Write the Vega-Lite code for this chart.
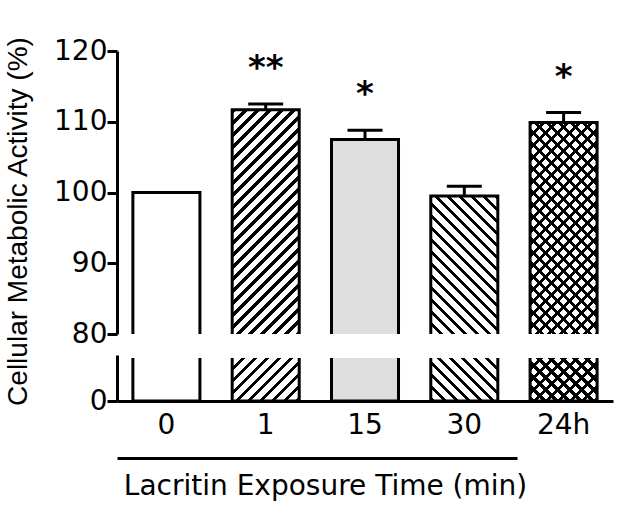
{
"$schema":"https://vega.github.io/schema/vega-lite/v6.json",
"background":"white",
"padding":{"left":4,"top":35,"right":5,"bottom":5},
"bounds":"flush",
"spacing":24,
"config":{"view":{"stroke":null},"axis":{"domainColor":"black","domainWidth":3,"tickColor":"black","tickWidth":3,"tickSize":10,"labelColor":"black","labelFont":"DejaVu Sans","labelFontSize":28,"titleFont":"DejaVu Sans","titleFontSize":28,"titleFontWeight":"normal","titleColor":"black","grid":false,"labelPadding":0}},
"resolve":{"scale":{"x":"independent","y":"independent"}},
"datasets":{"bars":[
{"t":"0","v":100,"hi":null,"star":""},
{"t":"1","v":111.7,"hi":112.5,"star":"**"},
{"t":"15","v":107.5,"hi":108.8,"star":"*"},
{"t":"30","v":99.5,"hi":100.9,"star":""},
{"t":"24h","v":109.9,"hi":111.3,"star":"*"}
]},
"vconcat":[
{"width":496,"height":283,"data":{"name":"bars"},
"encoding":{"x":{"field":"t","type":"nominal","sort":["0","1","15","30","24h"],"scale":{"paddingInner":0.325,"paddingOuter":0.16},"axis":null},
"y":{"field":"v","type":"quantitative","scale":{"domain":[80,120],"nice":false,"zero":false},"axis":{"values":[80,90,100,110,120],"title":"Cellular Metabolic Activity (%)","titleFont":"Liberation Sans","titleY":170,"titlePadding":21}}},
"layer":[
{"mark":{"type":"bar","stroke":"black","strokeWidth":3,"clip":true},"encoding":{"y2":{"datum":79.5},"fill":{"condition":{"test":"datum.t==='15'","value":"#dedede"},"value":"white"}}},
{"transform":[{"filter":"datum.t==='1'"}],"mark":{"type":"bar","clip":true,"strokeWidth":0,"fill":{"gradient":"linear","x1":0,"y1":0,"x2":0.3565,"y2":1.2121,"stops":[
{"offset":0,"color":"#000"},{"offset":0.014,"color":"#000"},{"offset":0.014,"color":"rgba(0,0,0,0)"},{"offset":0.04,"color":"rgba(0,0,0,0)"},
{"offset":0.04,"color":"#000"},{"offset":0.054,"color":"#000"},{"offset":0.054,"color":"rgba(0,0,0,0)"},{"offset":0.08,"color":"rgba(0,0,0,0)"},
{"offset":0.08,"color":"#000"},{"offset":0.094,"color":"#000"},{"offset":0.094,"color":"rgba(0,0,0,0)"},{"offset":0.12,"color":"rgba(0,0,0,0)"},
{"offset":0.12,"color":"#000"},{"offset":0.134,"color":"#000"},{"offset":0.134,"color":"rgba(0,0,0,0)"},{"offset":0.16,"color":"rgba(0,0,0,0)"},
{"offset":0.16,"color":"#000"},{"offset":0.174,"color":"#000"},{"offset":0.174,"color":"rgba(0,0,0,0)"},{"offset":0.2,"color":"rgba(0,0,0,0)"},
{"offset":0.2,"color":"#000"},{"offset":0.214,"color":"#000"},{"offset":0.214,"color":"rgba(0,0,0,0)"},{"offset":0.24,"color":"rgba(0,0,0,0)"},
{"offset":0.24,"color":"#000"},{"offset":0.254,"color":"#000"},{"offset":0.254,"color":"rgba(0,0,0,0)"},{"offset":0.28,"color":"rgba(0,0,0,0)"},
{"offset":0.28,"color":"#000"},{"offset":0.294,"color":"#000"},{"offset":0.294,"color":"rgba(0,0,0,0)"},{"offset":0.32,"color":"rgba(0,0,0,0)"},
{"offset":0.32,"color":"#000"},{"offset":0.334,"color":"#000"},{"offset":0.334,"color":"rgba(0,0,0,0)"},{"offset":0.36,"color":"rgba(0,0,0,0)"},
{"offset":0.36,"color":"#000"},{"offset":0.374,"color":"#000"},{"offset":0.374,"color":"rgba(0,0,0,0)"},{"offset":0.4,"color":"rgba(0,0,0,0)"},
{"offset":0.4,"color":"#000"},{"offset":0.414,"color":"#000"},{"offset":0.414,"color":"rgba(0,0,0,0)"},{"offset":0.44,"color":"rgba(0,0,0,0)"},
{"offset":0.44,"color":"#000"},{"offset":0.454,"color":"#000"},{"offset":0.454,"color":"rgba(0,0,0,0)"},{"offset":0.48,"color":"rgba(0,0,0,0)"},
{"offset":0.48,"color":"#000"},{"offset":0.494,"color":"#000"},{"offset":0.494,"color":"rgba(0,0,0,0)"},{"offset":0.52,"color":"rgba(0,0,0,0)"},
{"offset":0.52,"color":"#000"},{"offset":0.534,"color":"#000"},{"offset":0.534,"color":"rgba(0,0,0,0)"},{"offset":0.56,"color":"rgba(0,0,0,0)"},
{"offset":0.56,"color":"#000"},{"offset":0.574,"color":"#000"},{"offset":0.574,"color":"rgba(0,0,0,0)"},{"offset":0.6,"color":"rgba(0,0,0,0)"},
{"offset":0.6,"color":"#000"},{"offset":0.614,"color":"#000"},{"offset":0.614,"color":"rgba(0,0,0,0)"},{"offset":0.64,"color":"rgba(0,0,0,0)"},
{"offset":0.64,"color":"#000"},{"offset":0.654,"color":"#000"},{"offset":0.654,"color":"rgba(0,0,0,0)"},{"offset":0.68,"color":"rgba(0,0,0,0)"},
{"offset":0.68,"color":"#000"},{"offset":0.694,"color":"#000"},{"offset":0.694,"color":"rgba(0,0,0,0)"},{"offset":0.72,"color":"rgba(0,0,0,0)"},
{"offset":0.72,"color":"#000"},{"offset":0.734,"color":"#000"},{"offset":0.734,"color":"rgba(0,0,0,0)"},{"offset":0.76,"color":"rgba(0,0,0,0)"},
{"offset":0.76,"color":"#000"},{"offset":0.774,"color":"#000"},{"offset":0.774,"color":"rgba(0,0,0,0)"},{"offset":0.8,"color":"rgba(0,0,0,0)"},
{"offset":0.8,"color":"#000"},{"offset":0.814,"color":"#000"},{"offset":0.814,"color":"rgba(0,0,0,0)"},{"offset":0.84,"color":"rgba(0,0,0,0)"},
{"offset":0.84,"color":"#000"},{"offset":0.854,"color":"#000"},{"offset":0.854,"color":"rgba(0,0,0,0)"},{"offset":0.88,"color":"rgba(0,0,0,0)"},
{"offset":0.88,"color":"#000"},{"offset":0.894,"color":"#000"},{"offset":0.894,"color":"rgba(0,0,0,0)"},{"offset":0.92,"color":"rgba(0,0,0,0)"},
{"offset":0.92,"color":"#000"},{"offset":0.934,"color":"#000"},{"offset":0.934,"color":"rgba(0,0,0,0)"},{"offset":0.96,"color":"rgba(0,0,0,0)"},
{"offset":0.96,"color":"#000"},{"offset":0.974,"color":"#000"},{"offset":0.974,"color":"rgba(0,0,0,0)"},{"offset":1,"color":"rgba(0,0,0,0)"}
]}},"encoding":{"y2":{"datum":79.5}}},
{"transform":[{"filter":"datum.t==='24h'"}],"mark":{"type":"bar","clip":true,"strokeWidth":0,"fill":{"gradient":"linear","x1":0,"y1":0,"x2":0.396,"y2":1.2714,"stops":[
{"offset":0,"color":"#000"},{"offset":0.014,"color":"#000"},{"offset":0.014,"color":"rgba(0,0,0,0)"},{"offset":0.04,"color":"rgba(0,0,0,0)"},
{"offset":0.04,"color":"#000"},{"offset":0.054,"color":"#000"},{"offset":0.054,"color":"rgba(0,0,0,0)"},{"offset":0.08,"color":"rgba(0,0,0,0)"},
{"offset":0.08,"color":"#000"},{"offset":0.094,"color":"#000"},{"offset":0.094,"color":"rgba(0,0,0,0)"},{"offset":0.12,"color":"rgba(0,0,0,0)"},
{"offset":0.12,"color":"#000"},{"offset":0.134,"color":"#000"},{"offset":0.134,"color":"rgba(0,0,0,0)"},{"offset":0.16,"color":"rgba(0,0,0,0)"},
{"offset":0.16,"color":"#000"},{"offset":0.174,"color":"#000"},{"offset":0.174,"color":"rgba(0,0,0,0)"},{"offset":0.2,"color":"rgba(0,0,0,0)"},
{"offset":0.2,"color":"#000"},{"offset":0.214,"color":"#000"},{"offset":0.214,"color":"rgba(0,0,0,0)"},{"offset":0.24,"color":"rgba(0,0,0,0)"},
{"offset":0.24,"color":"#000"},{"offset":0.254,"color":"#000"},{"offset":0.254,"color":"rgba(0,0,0,0)"},{"offset":0.28,"color":"rgba(0,0,0,0)"},
{"offset":0.28,"color":"#000"},{"offset":0.294,"color":"#000"},{"offset":0.294,"color":"rgba(0,0,0,0)"},{"offset":0.32,"color":"rgba(0,0,0,0)"},
{"offset":0.32,"color":"#000"},{"offset":0.334,"color":"#000"},{"offset":0.334,"color":"rgba(0,0,0,0)"},{"offset":0.36,"color":"rgba(0,0,0,0)"},
{"offset":0.36,"color":"#000"},{"offset":0.374,"color":"#000"},{"offset":0.374,"color":"rgba(0,0,0,0)"},{"offset":0.4,"color":"rgba(0,0,0,0)"},
{"offset":0.4,"color":"#000"},{"offset":0.414,"color":"#000"},{"offset":0.414,"color":"rgba(0,0,0,0)"},{"offset":0.44,"color":"rgba(0,0,0,0)"},
{"offset":0.44,"color":"#000"},{"offset":0.454,"color":"#000"},{"offset":0.454,"color":"rgba(0,0,0,0)"},{"offset":0.48,"color":"rgba(0,0,0,0)"},
{"offset":0.48,"color":"#000"},{"offset":0.494,"color":"#000"},{"offset":0.494,"color":"rgba(0,0,0,0)"},{"offset":0.52,"color":"rgba(0,0,0,0)"},
{"offset":0.52,"color":"#000"},{"offset":0.534,"color":"#000"},{"offset":0.534,"color":"rgba(0,0,0,0)"},{"offset":0.56,"color":"rgba(0,0,0,0)"},
{"offset":0.56,"color":"#000"},{"offset":0.574,"color":"#000"},{"offset":0.574,"color":"rgba(0,0,0,0)"},{"offset":0.6,"color":"rgba(0,0,0,0)"},
{"offset":0.6,"color":"#000"},{"offset":0.614,"color":"#000"},{"offset":0.614,"color":"rgba(0,0,0,0)"},{"offset":0.64,"color":"rgba(0,0,0,0)"},
{"offset":0.64,"color":"#000"},{"offset":0.654,"color":"#000"},{"offset":0.654,"color":"rgba(0,0,0,0)"},{"offset":0.68,"color":"rgba(0,0,0,0)"},
{"offset":0.68,"color":"#000"},{"offset":0.694,"color":"#000"},{"offset":0.694,"color":"rgba(0,0,0,0)"},{"offset":0.72,"color":"rgba(0,0,0,0)"},
{"offset":0.72,"color":"#000"},{"offset":0.734,"color":"#000"},{"offset":0.734,"color":"rgba(0,0,0,0)"},{"offset":0.76,"color":"rgba(0,0,0,0)"},
{"offset":0.76,"color":"#000"},{"offset":0.774,"color":"#000"},{"offset":0.774,"color":"rgba(0,0,0,0)"},{"offset":0.8,"color":"rgba(0,0,0,0)"},
{"offset":0.8,"color":"#000"},{"offset":0.814,"color":"#000"},{"offset":0.814,"color":"rgba(0,0,0,0)"},{"offset":0.84,"color":"rgba(0,0,0,0)"},
{"offset":0.84,"color":"#000"},{"offset":0.854,"color":"#000"},{"offset":0.854,"color":"rgba(0,0,0,0)"},{"offset":0.88,"color":"rgba(0,0,0,0)"},
{"offset":0.88,"color":"#000"},{"offset":0.894,"color":"#000"},{"offset":0.894,"color":"rgba(0,0,0,0)"},{"offset":0.92,"color":"rgba(0,0,0,0)"},
{"offset":0.92,"color":"#000"},{"offset":0.934,"color":"#000"},{"offset":0.934,"color":"rgba(0,0,0,0)"},{"offset":0.96,"color":"rgba(0,0,0,0)"}
]}},"encoding":{"y2":{"datum":79.5}}},
{"transform":[{"filter":"datum.t==='24h'"}],"mark":{"type":"bar","clip":true,"strokeWidth":0,"fill":{"gradient":"linear","x1":1,"y1":0,"x2":0.604,"y2":1.2714,"stops":[
{"offset":0,"color":"#000"},{"offset":0.014,"color":"#000"},{"offset":0.014,"color":"rgba(0,0,0,0)"},{"offset":0.04,"color":"rgba(0,0,0,0)"},
{"offset":0.04,"color":"#000"},{"offset":0.054,"color":"#000"},{"offset":0.054,"color":"rgba(0,0,0,0)"},{"offset":0.08,"color":"rgba(0,0,0,0)"},
{"offset":0.08,"color":"#000"},{"offset":0.094,"color":"#000"},{"offset":0.094,"color":"rgba(0,0,0,0)"},{"offset":0.12,"color":"rgba(0,0,0,0)"},
{"offset":0.12,"color":"#000"},{"offset":0.134,"color":"#000"},{"offset":0.134,"color":"rgba(0,0,0,0)"},{"offset":0.16,"color":"rgba(0,0,0,0)"},
{"offset":0.16,"color":"#000"},{"offset":0.174,"color":"#000"},{"offset":0.174,"color":"rgba(0,0,0,0)"},{"offset":0.2,"color":"rgba(0,0,0,0)"},
{"offset":0.2,"color":"#000"},{"offset":0.214,"color":"#000"},{"offset":0.214,"color":"rgba(0,0,0,0)"},{"offset":0.24,"color":"rgba(0,0,0,0)"},
{"offset":0.24,"color":"#000"},{"offset":0.254,"color":"#000"},{"offset":0.254,"color":"rgba(0,0,0,0)"},{"offset":0.28,"color":"rgba(0,0,0,0)"},
{"offset":0.28,"color":"#000"},{"offset":0.294,"color":"#000"},{"offset":0.294,"color":"rgba(0,0,0,0)"},{"offset":0.32,"color":"rgba(0,0,0,0)"},
{"offset":0.32,"color":"#000"},{"offset":0.334,"color":"#000"},{"offset":0.334,"color":"rgba(0,0,0,0)"},{"offset":0.36,"color":"rgba(0,0,0,0)"},
{"offset":0.36,"color":"#000"},{"offset":0.374,"color":"#000"},{"offset":0.374,"color":"rgba(0,0,0,0)"},{"offset":0.4,"color":"rgba(0,0,0,0)"},
{"offset":0.4,"color":"#000"},{"offset":0.414,"color":"#000"},{"offset":0.414,"color":"rgba(0,0,0,0)"},{"offset":0.44,"color":"rgba(0,0,0,0)"},
{"offset":0.44,"color":"#000"},{"offset":0.454,"color":"#000"},{"offset":0.454,"color":"rgba(0,0,0,0)"},{"offset":0.48,"color":"rgba(0,0,0,0)"},
{"offset":0.48,"color":"#000"},{"offset":0.494,"color":"#000"},{"offset":0.494,"color":"rgba(0,0,0,0)"},{"offset":0.52,"color":"rgba(0,0,0,0)"},
{"offset":0.52,"color":"#000"},{"offset":0.534,"color":"#000"},{"offset":0.534,"color":"rgba(0,0,0,0)"},{"offset":0.56,"color":"rgba(0,0,0,0)"},
{"offset":0.56,"color":"#000"},{"offset":0.574,"color":"#000"},{"offset":0.574,"color":"rgba(0,0,0,0)"},{"offset":0.6,"color":"rgba(0,0,0,0)"},
{"offset":0.6,"color":"#000"},{"offset":0.614,"color":"#000"},{"offset":0.614,"color":"rgba(0,0,0,0)"},{"offset":0.64,"color":"rgba(0,0,0,0)"},
{"offset":0.64,"color":"#000"},{"offset":0.654,"color":"#000"},{"offset":0.654,"color":"rgba(0,0,0,0)"},{"offset":0.68,"color":"rgba(0,0,0,0)"},
{"offset":0.68,"color":"#000"},{"offset":0.694,"color":"#000"},{"offset":0.694,"color":"rgba(0,0,0,0)"},{"offset":0.72,"color":"rgba(0,0,0,0)"},
{"offset":0.72,"color":"#000"},{"offset":0.734,"color":"#000"},{"offset":0.734,"color":"rgba(0,0,0,0)"},{"offset":0.76,"color":"rgba(0,0,0,0)"},
{"offset":0.76,"color":"#000"},{"offset":0.774,"color":"#000"},{"offset":0.774,"color":"rgba(0,0,0,0)"},{"offset":0.8,"color":"rgba(0,0,0,0)"},
{"offset":0.8,"color":"#000"},{"offset":0.814,"color":"#000"},{"offset":0.814,"color":"rgba(0,0,0,0)"},{"offset":0.84,"color":"rgba(0,0,0,0)"},
{"offset":0.84,"color":"#000"},{"offset":0.854,"color":"#000"},{"offset":0.854,"color":"rgba(0,0,0,0)"},{"offset":0.88,"color":"rgba(0,0,0,0)"},
{"offset":0.88,"color":"#000"},{"offset":0.894,"color":"#000"},{"offset":0.894,"color":"rgba(0,0,0,0)"},{"offset":0.92,"color":"rgba(0,0,0,0)"},
{"offset":0.92,"color":"#000"},{"offset":0.934,"color":"#000"},{"offset":0.934,"color":"rgba(0,0,0,0)"},{"offset":0.96,"color":"rgba(0,0,0,0)"}
]}},"encoding":{"y2":{"datum":79.5}}},
{"transform":[{"filter":"datum.t==='30'"}],"mark":{"type":"bar","clip":true,"strokeWidth":0,"fill":{"gradient":"linear","x1":1,"y1":0,"x2":0.18,"y2":1.7319,"stops":[
{"offset":0,"color":"#000"},{"offset":0.014,"color":"#000"},{"offset":0.014,"color":"rgba(0,0,0,0)"},{"offset":0.04,"color":"rgba(0,0,0,0)"},
{"offset":0.04,"color":"#000"},{"offset":0.054,"color":"#000"},{"offset":0.054,"color":"rgba(0,0,0,0)"},{"offset":0.08,"color":"rgba(0,0,0,0)"},
{"offset":0.08,"color":"#000"},{"offset":0.094,"color":"#000"},{"offset":0.094,"color":"rgba(0,0,0,0)"},{"offset":0.12,"color":"rgba(0,0,0,0)"},
{"offset":0.12,"color":"#000"},{"offset":0.134,"color":"#000"},{"offset":0.134,"color":"rgba(0,0,0,0)"},{"offset":0.16,"color":"rgba(0,0,0,0)"},
{"offset":0.16,"color":"#000"},{"offset":0.174,"color":"#000"},{"offset":0.174,"color":"rgba(0,0,0,0)"},{"offset":0.2,"color":"rgba(0,0,0,0)"},
{"offset":0.2,"color":"#000"},{"offset":0.214,"color":"#000"},{"offset":0.214,"color":"rgba(0,0,0,0)"},{"offset":0.24,"color":"rgba(0,0,0,0)"},
{"offset":0.24,"color":"#000"},{"offset":0.254,"color":"#000"},{"offset":0.254,"color":"rgba(0,0,0,0)"},{"offset":0.28,"color":"rgba(0,0,0,0)"},
{"offset":0.28,"color":"#000"},{"offset":0.294,"color":"#000"},{"offset":0.294,"color":"rgba(0,0,0,0)"},{"offset":0.32,"color":"rgba(0,0,0,0)"},
{"offset":0.32,"color":"#000"},{"offset":0.334,"color":"#000"},{"offset":0.334,"color":"rgba(0,0,0,0)"},{"offset":0.36,"color":"rgba(0,0,0,0)"},
{"offset":0.36,"color":"#000"},{"offset":0.374,"color":"#000"},{"offset":0.374,"color":"rgba(0,0,0,0)"},{"offset":0.4,"color":"rgba(0,0,0,0)"},
{"offset":0.4,"color":"#000"},{"offset":0.414,"color":"#000"},{"offset":0.414,"color":"rgba(0,0,0,0)"},{"offset":0.44,"color":"rgba(0,0,0,0)"},
{"offset":0.44,"color":"#000"},{"offset":0.454,"color":"#000"},{"offset":0.454,"color":"rgba(0,0,0,0)"},{"offset":0.48,"color":"rgba(0,0,0,0)"},
{"offset":0.48,"color":"#000"},{"offset":0.494,"color":"#000"},{"offset":0.494,"color":"rgba(0,0,0,0)"},{"offset":0.52,"color":"rgba(0,0,0,0)"},
{"offset":0.52,"color":"#000"},{"offset":0.534,"color":"#000"},{"offset":0.534,"color":"rgba(0,0,0,0)"},{"offset":0.56,"color":"rgba(0,0,0,0)"},
{"offset":0.56,"color":"#000"},{"offset":0.574,"color":"#000"},{"offset":0.574,"color":"rgba(0,0,0,0)"},{"offset":0.6,"color":"rgba(0,0,0,0)"},
{"offset":0.6,"color":"#000"},{"offset":0.614,"color":"#000"},{"offset":0.614,"color":"rgba(0,0,0,0)"},{"offset":0.64,"color":"rgba(0,0,0,0)"},
{"offset":0.64,"color":"#000"},{"offset":0.654,"color":"#000"},{"offset":0.654,"color":"rgba(0,0,0,0)"},{"offset":0.68,"color":"rgba(0,0,0,0)"},
{"offset":0.68,"color":"#000"},{"offset":0.694,"color":"#000"},{"offset":0.694,"color":"rgba(0,0,0,0)"},{"offset":0.72,"color":"rgba(0,0,0,0)"}
]}},"encoding":{"y2":{"datum":79.5}}},
{"transform":[{"filter":"datum.hi != null"}],"mark":{"type":"rule","color":"black","strokeWidth":3},"encoding":{"y2":{"field":"hi"}}},
{"transform":[{"filter":"datum.hi != null"}],"mark":{"type":"tick","color":"black","size":35,"thickness":3,"opacity":1},"encoding":{"y":{"field":"hi","type":"quantitative"}}},
{"transform":[{"filter":"datum.star != ''"}],"mark":{"type":"text","font":"DejaVu Sans","fontSize":34,"fontWeight":"bold","baseline":"alphabetic","dy":-25,"color":"black"},"encoding":{"y":{"field":"hi","type":"quantitative"},"text":{"field":"star"}}}
]},
{"width":496,"height":43,"data":{"name":"bars"},
"encoding":{"x":{"field":"t","type":"nominal","sort":["0","1","15","30","24h"],"scale":{"paddingInner":0.325,"paddingOuter":0.16},"axis":{"labelAngle":0,"ticks":false,"tickSize":0,"labelPadding":10,"title":null}},
"y":{"field":"v","type":"quantitative","scale":{"domain":[0,6],"range":[43,-3],"clamp":true,"nice":false},"axis":{"values":[0],"title":null}}},
"layer":[
{"mark":{"type":"bar","stroke":"black","strokeWidth":3,"clip":true},"encoding":{"fill":{"condition":{"test":"datum.t==='15'","value":"#dedede"},"value":"white"}}},
{"transform":[{"filter":"datum.t==='1' || datum.t==='24h'"}],"mark":{"type":"bar","clip":true,"strokeWidth":0,"fill":{"gradient":"linear","x1":0,"y1":0,"x2":3.0431,"y2":2.0893,"stops":[
{"offset":0,"color":"#000"},{"offset":0.014,"color":"#000"},{"offset":0.014,"color":"rgba(0,0,0,0)"},{"offset":0.04,"color":"rgba(0,0,0,0)"},
{"offset":0.04,"color":"#000"},{"offset":0.054,"color":"#000"},{"offset":0.054,"color":"rgba(0,0,0,0)"},{"offset":0.08,"color":"rgba(0,0,0,0)"},
{"offset":0.08,"color":"#000"},{"offset":0.094,"color":"#000"},{"offset":0.094,"color":"rgba(0,0,0,0)"},{"offset":0.12,"color":"rgba(0,0,0,0)"},
{"offset":0.12,"color":"#000"},{"offset":0.134,"color":"#000"},{"offset":0.134,"color":"rgba(0,0,0,0)"},{"offset":0.16,"color":"rgba(0,0,0,0)"},
{"offset":0.16,"color":"#000"},{"offset":0.174,"color":"#000"},{"offset":0.174,"color":"rgba(0,0,0,0)"},{"offset":0.2,"color":"rgba(0,0,0,0)"},
{"offset":0.2,"color":"#000"},{"offset":0.214,"color":"#000"},{"offset":0.214,"color":"rgba(0,0,0,0)"},{"offset":0.24,"color":"rgba(0,0,0,0)"},
{"offset":0.24,"color":"#000"},{"offset":0.254,"color":"#000"},{"offset":0.254,"color":"rgba(0,0,0,0)"},{"offset":0.28,"color":"rgba(0,0,0,0)"},
{"offset":0.28,"color":"#000"},{"offset":0.294,"color":"#000"},{"offset":0.294,"color":"rgba(0,0,0,0)"},{"offset":0.32,"color":"rgba(0,0,0,0)"},
{"offset":0.32,"color":"#000"},{"offset":0.334,"color":"#000"},{"offset":0.334,"color":"rgba(0,0,0,0)"},{"offset":0.36,"color":"rgba(0,0,0,0)"},
{"offset":0.36,"color":"#000"},{"offset":0.374,"color":"#000"},{"offset":0.374,"color":"rgba(0,0,0,0)"},{"offset":0.4,"color":"rgba(0,0,0,0)"}
]}}},
{"transform":[{"filter":"datum.t==='30' || datum.t==='24h'"}],"mark":{"type":"bar","clip":true,"strokeWidth":0,"fill":{"gradient":"linear","x1":1,"y1":0,"x2":-2.0431,"y2":2.0893,"stops":[
{"offset":0,"color":"#000"},{"offset":0.014,"color":"#000"},{"offset":0.014,"color":"rgba(0,0,0,0)"},{"offset":0.04,"color":"rgba(0,0,0,0)"},
{"offset":0.04,"color":"#000"},{"offset":0.054,"color":"#000"},{"offset":0.054,"color":"rgba(0,0,0,0)"},{"offset":0.08,"color":"rgba(0,0,0,0)"},
{"offset":0.08,"color":"#000"},{"offset":0.094,"color":"#000"},{"offset":0.094,"color":"rgba(0,0,0,0)"},{"offset":0.12,"color":"rgba(0,0,0,0)"},
{"offset":0.12,"color":"#000"},{"offset":0.134,"color":"#000"},{"offset":0.134,"color":"rgba(0,0,0,0)"},{"offset":0.16,"color":"rgba(0,0,0,0)"},
{"offset":0.16,"color":"#000"},{"offset":0.174,"color":"#000"},{"offset":0.174,"color":"rgba(0,0,0,0)"},{"offset":0.2,"color":"rgba(0,0,0,0)"},
{"offset":0.2,"color":"#000"},{"offset":0.214,"color":"#000"},{"offset":0.214,"color":"rgba(0,0,0,0)"},{"offset":0.24,"color":"rgba(0,0,0,0)"},
{"offset":0.24,"color":"#000"},{"offset":0.254,"color":"#000"},{"offset":0.254,"color":"rgba(0,0,0,0)"},{"offset":0.28,"color":"rgba(0,0,0,0)"},
{"offset":0.28,"color":"#000"},{"offset":0.294,"color":"#000"},{"offset":0.294,"color":"rgba(0,0,0,0)"},{"offset":0.32,"color":"rgba(0,0,0,0)"},
{"offset":0.32,"color":"#000"},{"offset":0.334,"color":"#000"},{"offset":0.334,"color":"rgba(0,0,0,0)"},{"offset":0.36,"color":"rgba(0,0,0,0)"},
{"offset":0.36,"color":"#000"},{"offset":0.374,"color":"#000"},{"offset":0.374,"color":"rgba(0,0,0,0)"},{"offset":0.4,"color":"rgba(0,0,0,0)"}
]}}}
]},
{"width":400,"height":33,"data":{"values":[{"a":0},{"a":1}]},"mark":{"type":"rule","opacity":0},
"encoding":{"x":{"field":"a","type":"quantitative","scale":{"domain":[0,1],"nice":false},"axis":{"ticks":false,"labels":false,"title":"Lacritin Exposure Time (min)","titlePadding":14,"titleX":208}}}}
]
}
